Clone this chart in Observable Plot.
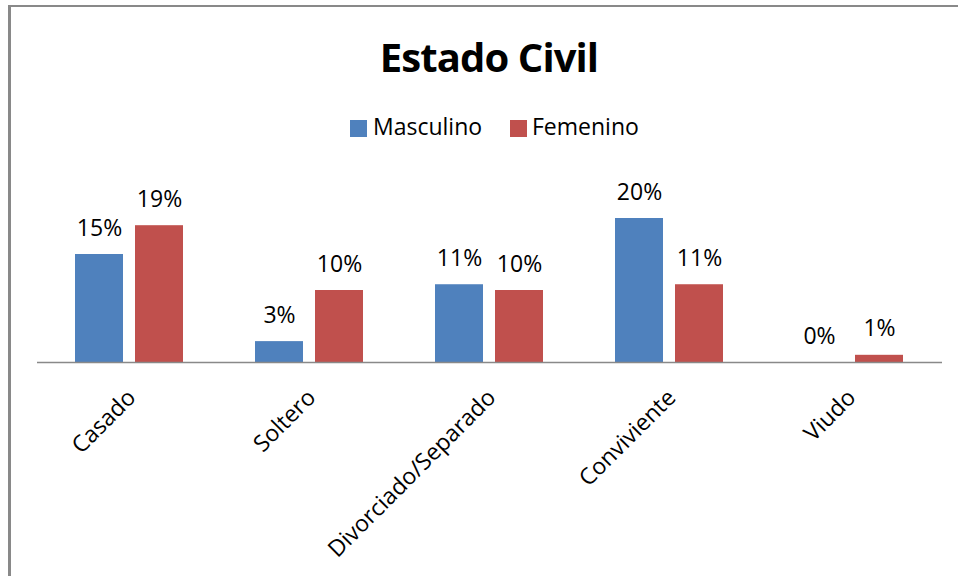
<!DOCTYPE html>
<html>
<head>
<meta charset="utf-8">
<script src="https://cdn.jsdelivr.net/npm/d3@7"></script>
<script src="https://cdn.jsdelivr.net/npm/@observablehq/plot@0.6"></script>
<style>
  html, body { margin: 0; padding: 0; background: #fff; }
  #wrap { position: relative; width: 958px; height: 576px; overflow: hidden; font-family: "Open Sans", sans-serif; }
  #frame { position: absolute; left: 8px; top: 5px; width: 960px; height: 600px; border-left: 3px solid #898989; border-top: 2px solid #898989; box-sizing: border-box; }
  #title { position: absolute; left: 0; top: 36.5px; width: 978px; text-align: center; font-size: 40px; line-height: 40px; font-weight: bold; letter-spacing: -0.9px; color: #000; }
  .sw { position: absolute; width: 17px; height: 17px; top: 120px; }
  .lt { position: absolute; top: 114.6px; font-size: 23px; line-height: 23px; color: #000; white-space: nowrap; }
  #chart { position: absolute; left: 0; top: 0; }
</style>
</head>
<body>
<div id="wrap">
  <div id="frame"></div>
  <div id="title">Estado Civil</div>
  <div id="legend"></div>
  <div id="chart"></div>
</div>
<script>
const categories = ["Casado", "Soltero", "Divorciado/Separado", "Conviviente", "Viudo"];
const masculino = [15.0, 2.9, 10.8, 20.0, 0];
const femenino = [19.0, 10.0, 10.0, 10.8, 1.0];
const seriesNames = ["Masculino", "Femenino"];
const seriesColors = ["#4F81BD", "#C0504D"];

const rows = categories.map((c, i) => ({cat: c, masc: masculino[i], fem: femenino[i]}));

// legend
const legend = document.getElementById("legend");
const legendPos = [[350, 373], [510, 532]];
seriesNames.forEach((name, i) => {
  const sw = document.createElement("div");
  sw.className = "sw";
  sw.style.left = legendPos[i][0] + "px";
  sw.style.background = seriesColors[i];
  legend.appendChild(sw);
  const t = document.createElement("div");
  t.className = "lt";
  t.style.left = legendPos[i][1] + "px";
  t.textContent = name;
  legend.appendChild(t);
});

const chart = Plot.plot({
  width: 958,
  height: 576,
  marginLeft: 39,
  marginRight: 19,
  marginTop: 182,
  marginBottom: 214,
  style: {fontFamily: "Open Sans, sans-serif", background: "transparent", overflow: "visible"},
  x: {domain: categories, paddingInner: 0.4, paddingOuter: 0.2, axis: null},
  y: {domain: [0, 25], axis: null},
  marks: [
    Plot.barY(rows, {x: "cat", y: "masc", fill: seriesColors[0], insetRight: 60}),
    Plot.barY(rows, {x: "cat", y: "fem", fill: seriesColors[1], insetLeft: 60}),
    Plot.ruleY([0], {stroke: "#898989", strokeWidth: 1.5, insetLeft: -2, insetRight: -3}),
    Plot.text(rows, {x: "cat", y: "masc", text: d => Math.round(d.masc) + "%", dx: -30, dy: -19, lineAnchor: "bottom", fontSize: 23, fill: "#000"}),
    Plot.text(rows, {x: "cat", y: "fem", text: d => Math.round(d.fem) + "%", dx: 30, dy: -19, lineAnchor: "bottom", fontSize: 23, fill: "#000"}),
    Plot.text(categories, {x: d => d, frameAnchor: "bottom", text: d => d, rotate: -45, textAnchor: "end", lineAnchor: "top", fontSize: 23, dy: 25, dx: -4, fill: "#000"})
  ]
});
document.getElementById("chart").appendChild(chart);
</script>
</body>
</html>
